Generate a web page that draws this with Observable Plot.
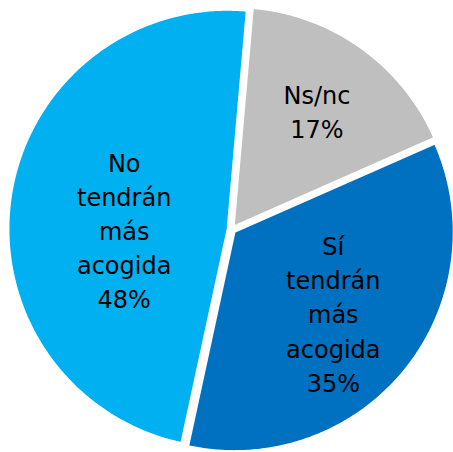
<!DOCTYPE html>
<html>
<head>
<meta charset="utf-8">
<script src="https://cdn.jsdelivr.net/npm/d3@7"></script>
<script src="https://cdn.jsdelivr.net/npm/@observablehq/plot@0.6"></script>
<style>
  html, body { margin: 0; padding: 0; background: #fff; }
  #chart svg { display: block; }
</style>
</head>
<body>
<div id="chart"></div>
<script>
// ---- data ----
const categories = ["Ns/nc", "Sí tendrán más acogida", "No tendrán más acogida"];
const labels = ["Ns/nc", "Sí\ntendrán\nmás\nacogida", "No\ntendrán\nmás\nacogida"];
const values = [17, 35, 48];
const colors = ["#BFBFBF", "#0070C0", "#00B0F0"];

// ---- layout ----
const W = 453, H = 452;
const cx = 231, cy = 229, R = 219, explode = 4;
const startDeg = 5;
// label placement: fraction of radius and angular shift (degrees) from slice bisector
const labelPlace = {
  "Ns/nc": { r: 0.67, shift: 0 },
  "Sí tendrán más acogida": { r: 0.6, shift: 0 },
  "No tendrán más acogida": { r: 0.49, shift: -8.5 }
};

const pie = d3.pie().sort(null).value(d => d.value)
  .startAngle(startDeg * Math.PI / 180)
  .endAngle(startDeg * Math.PI / 180 + 2 * Math.PI);
const rows = categories.map((c, i) => ({ category: c, label: labels[i] + "\n" + values[i] + "%", value: values[i], color: colors[i] }));
const arcs = pie(rows);

const polyPts = [];
const labelPts = [];
for (const a of arcs) {
  const mid = (a.startAngle + a.endAngle) / 2;
  const ox = cx + explode * Math.sin(mid), oy = cy - explode * Math.cos(mid);
  polyPts.push({ category: a.data.category, x: ox, y: oy });
  const n = Math.max(2, Math.ceil((a.endAngle - a.startAngle) / 0.01));
  for (let k = 0; k <= n; k++) {
    const t = a.startAngle + (a.endAngle - a.startAngle) * k / n;
    polyPts.push({ category: a.data.category, x: ox + R * Math.sin(t), y: oy - R * Math.cos(t) });
  }
  const p = labelPlace[a.data.category];
  const la = mid + p.shift * Math.PI / 180;
  const lr = p.r * R;
  labelPts.push({ label: a.data.label, x: cx + lr * Math.sin(la), y: cy - lr * Math.cos(la) });
}

const chart = Plot.plot({
  width: W,
  height: H,
  margin: 0,
  x: { domain: [0, W], range: [0, W], axis: null },
  y: { domain: [0, H], range: [0, H], axis: null },
  color: { domain: categories, range: colors },
  style: { fontFamily: "DejaVu Sans", background: "#fff" },
  marks: [
    Plot.line(polyPts, { x: "x", y: "y", z: "category", fill: "category", stroke: "white", strokeWidth: 1.8, curve: "linear-closed" }),
    Plot.text(labelPts, { x: "x", y: "y", text: "label", fontSize: 24, lineHeight: 1.42, fill: "#000", fontFamily: "DejaVu Sans" })
  ]
});
document.getElementById("chart").appendChild(chart);
</script>
</body>
</html>
